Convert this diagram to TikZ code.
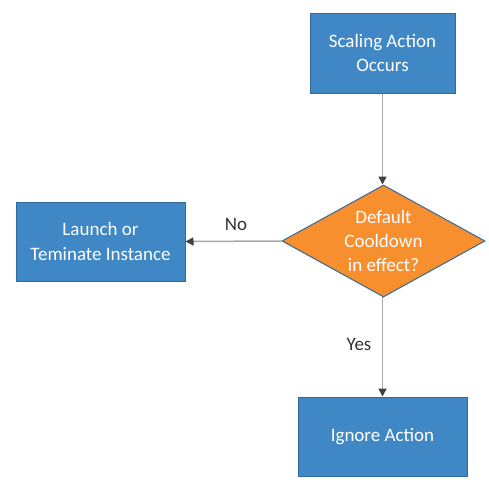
\documentclass[tikz,border=0pt]{standalone}
\usepackage{fontspec}
\setmainfont{Carlito}
\usetikzlibrary{shapes.geometric,arrows.meta}
\definecolor{boxblue}{HTML}{3F88C5}
\definecolor{boxedge}{HTML}{2F6A9C}
\definecolor{decorange}{HTML}{F78F2E}
\definecolor{linegray}{HTML}{A8A8A8}
\definecolor{tipgray}{HTML}{404040}
\definecolor{labelgray}{HTML}{333333}
\tikzset{
  actionbox/.style={draw=boxedge,fill=boxblue,line width=1pt,text=white,
    minimum width=169pt,minimum height=79pt,align=center,font=\fontsize{19}{24.5}\selectfont},
  decision/.style={diamond,draw=boxedge,fill=decorange,line width=1pt,text=white,
    minimum width=203pt,minimum height=112pt,inner sep=0pt,align=center,
    font=\fontsize{19}{24}\selectfont},
  flow/.style={draw=linegray,line width=1.5pt,-{Triangle[length=8pt,width=8pt,color=tipgray]}},
  answer/.style={text=labelgray,font=\fontsize{19}{22}\selectfont}
}
\begin{document}
\begin{tikzpicture}[x=1pt,y=-1pt]
  \useasboundingbox (0,0) rectangle (488,490);
  % Boxes
  \node[actionbox,minimum width=145pt,minimum height=80pt] (scaling) at (382.5,53) {Scaling Action\\Occurs};
  \node[decision,aspect=1.8] (cooldown) at (383.5,241) {Default\\Cooldown\\in effect?};
  \node[actionbox] (launch) at (100.5,241.5) {Launch or\\Teminate Instance};
  \node[actionbox] (ignore) at (382.5,436.5) {Ignore Action};

  % Connectors
  \draw[flow] (scaling.south) -- (scaling.south |- cooldown.north);
  \draw[flow] (cooldown.west) -- (launch.east);
  \draw[flow] (cooldown.south) -- (cooldown.south -| ignore.north) -- (ignore.north);

  % Answers
  \node[answer] (no) at (236,224) {No};
  \node[answer] (yes) at (359,344) {Yes};
\end{tikzpicture}
\end{document}
